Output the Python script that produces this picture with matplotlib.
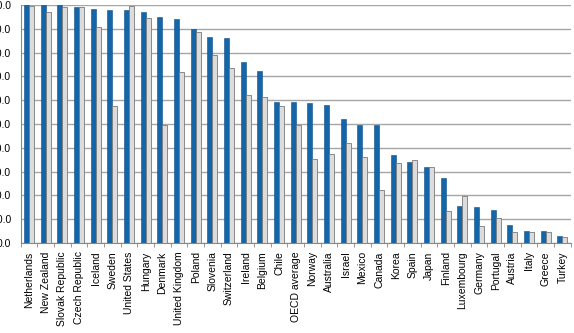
import matplotlib
matplotlib.use('Agg')
import matplotlib.pyplot as plt
import numpy as np

countries = ['Netherlands', 'New Zealand', 'Slovak Republic', 'Czech Republic', 'Iceland',
             'Sweden', 'United States', 'Hungary', 'Denmark', 'United Kingdom', 'Poland',
             'Slovenia', 'Switzerland', 'Ireland', 'Belgium', 'Chile', 'OECD average',
             'Norway', 'Australia', 'Israel', 'Mexico', 'Canada', 'Korea', 'Spain', 'Japan',
             'Finland', 'Luxembourg', 'Germany', 'Portugal', 'Austria', 'Italy', 'Greece',
             'Turkey']

blue_vals = [99.9, 99.9, 99.9, 99.0, 98.3, 97.8, 97.8, 96.9, 94.8, 94.1, 89.9,
             86.7, 86.1, 76.0, 72.1, 59.2, 59.2, 58.9, 58.1, 52.2, 49.7, 49.4,
             36.9, 34.0, 32.1, 27.4, 15.5, 15.0, 13.7, 7.6, 5.2, 4.9, 2.9]

grey_vals = [99.5, 96.9, 99.0, 99.0, 90.6, 57.6, 99.7, 94.4, 49.7, 71.7, 88.8,
             79.0, 73.7, 62.3, 61.5, 57.6, 49.7, 35.5, 37.4, 41.9, 36.0, 22.1,
             33.7, 34.8, 32.1, 13.4, 19.9, 7.1, 10.6, 4.5, 4.6, 4.6, 2.4]

yticks = [0, 10, 20, 30, 40, 50, 60, 70, 80, 90, 100]

plt.rcParams['font.family'] = ['Liberation Sans', 'DejaVu Sans']

fig = plt.figure(figsize=(5.74, 3.33), dpi=100)
ax = fig.add_axes([20.7 / 574, 1 - 243 / 333, 550 / 574, 238 / 333])

x = np.arange(len(countries))
w = 0.3
ax.bar(x - w / 2, blue_vals, w, color='#1565a9', edgecolor='#0d4f88', linewidth=0.4, zorder=3)
ax.bar(x + w / 2, grey_vals, w, color='#dcdcdc', edgecolor='#7a7a7a', linewidth=0.6, zorder=3)

ax.set_xlim(-0.5, len(countries) - 0.5)
ax.set_ylim(0, 100)
ax.set_yticks(yticks)
ax.set_yticklabels(['%.1f' % v for v in yticks])
ax.set_xticks(x)
ax.set_xticklabels(countries, rotation=90, fontsize=7.5)
ax.set_xticks(np.arange(-0.5, len(countries), 1), minor=True)
ax.tick_params(axis='x', which='major', length=0, pad=6)
ax.tick_params(axis='x', which='minor', length=3, color='#888888', direction='out')
ax.tick_params(axis='y', length=0, pad=7, labelsize=7.5)

ax.yaxis.grid(True, color='#a6a6a6', linewidth=1.0, zorder=0)
ax.set_axisbelow(True)
for s in ['top', 'right']:
    ax.spines[s].set_visible(False)
ax.spines['left'].set_color('#888888')
ax.spines['bottom'].set_color('#888888')

fig.savefig('out.png', dpi=100)
